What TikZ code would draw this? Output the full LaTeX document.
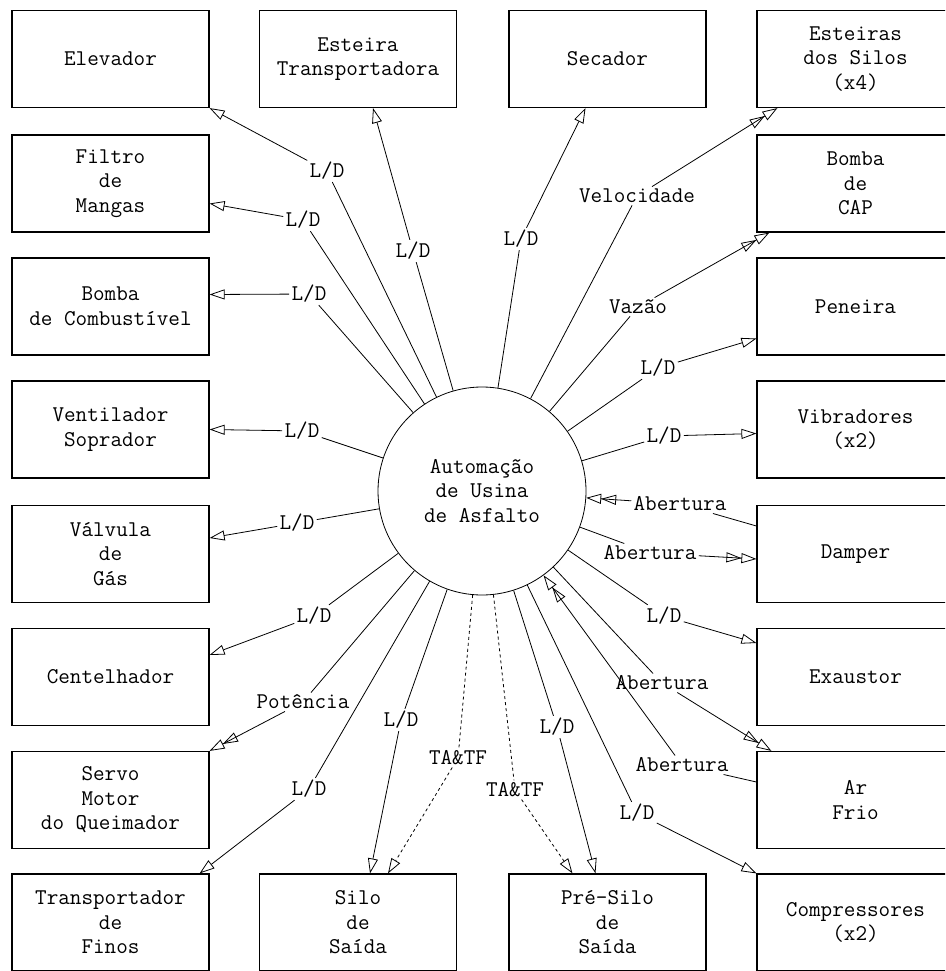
\documentclass[tikz,border=0pt]{standalone}
\usetikzlibrary{arrows.meta}

\begin{document}
\begin{tikzpicture}[x=1pt, y=-1pt, line width=0.8pt,
        >={Triangle[open,length=15pt,width=10pt]},
        bloco/.style={draw, line width=1.2pt, minimum width=197pt, minimum height=97pt,
            inner sep=0pt, align=center, font=\ttfamily\fontsize{22.5}{24.5}\selectfont},
        rotulo/.style={inner sep=2pt, font=\ttfamily\fontsize{22.5}{24}\selectfont},
        tatf/.style={dash pattern=on 3pt off 3pt}]
        \useasboundingbox (0,0) rectangle (945,971);
        \clip (0,0) rectangle (945,971);

        \node[draw, circle, minimum size=208pt, inner sep=0pt, align=center,
              font=\ttfamily\fontsize{22.5}{24.5}\selectfont] (usina) at (482,491)
              {Automação\\de Usina\\de Asfalto};

        % coluna da esquerda
        \node[bloco] (elev)   at (110.5,59)    {Elevador};
        \node[bloco] (filtro) at (110.5,183.5) {Filtro\\de\\Mangas};
        \node[bloco] (bcomb)  at (110.5,306.5) {Bomba\\de Combustível};
        \node[bloco] (vent)   at (110.5,429.5) {Ventilador\\Soprador};
        \node[bloco] (valv)   at (110.5,554)   {Válvula\\de\\Gás};
        \node[bloco] (cent)   at (110.5,677)   {Centelhador};
        \node[bloco] (servo)  at (110.5,800)   {Servo\\Motor\\do Queimador};
        \node[bloco] (tfinos) at (110.5,922.5) {Transportador\\de\\Finos};

        % meio
        \node[bloco] (esttr)   at (358,59)      {Esteira\\Transportadora};
        \node[bloco] (sec)     at (607.5,59)    {Secador};
        \node[bloco] (silo)    at (358,922.5)   {Silo\\de\\Saída};
        \node[bloco] (presilo) at (607.5,922.5) {Pré-Silo\\de\\Saída};

        % coluna da direita
        \node[bloco] (estsil) at (855.5,59)    {Esteiras\\dos Silos\\(x4)};
        \node[bloco] (bcap)   at (855.5,183.5) {Bomba\\de\\CAP};
        \node[bloco] (pen)    at (855.5,306.5) {Peneira};
        \node[bloco] (vib)    at (855.5,429.5) {Vibradores\\(x2)};
        \node[bloco] (damp)   at (855.5,554)   {Damper};
        \node[bloco] (exau)   at (855.5,677)   {Exaustor};
        \node[bloco] (arfr)   at (855.5,800)   {Ar\\Frio};
        \node[bloco] (comp)   at (855.5,922.5) {Compressores\\(x2)};

        % rotulos
        \node[rotulo] (ld1)  at (327,171) {L/D};
        \node[rotulo] (ld2)  at (303,220) {L/D};
        \node[rotulo] (ld3)  at (309,294) {L/D};
        \node[rotulo] (ld4)  at (302,431) {L/D};
        \node[rotulo] (ld5)  at (297,523) {L/D};
        \node[rotulo] (ld6)  at (314,616) {L/D};
        \node[rotulo] (pot)  at (303,702) {Potência};
        \node[rotulo] (ld7)  at (309,789) {L/D};
        \node[rotulo] (ld8)  at (413,251) {L/D};
        \node[rotulo] (ld9)  at (521,239) {L/D};
        \node[rotulo] (vel)  at (637,196) {Velocidade};
        \node[rotulo] (vaz)  at (638,307) {Vazão};
        \node[rotulo] (ld10) at (658,368) {L/D};
        \node[rotulo] (ld11) at (664,436) {L/D};
        \node[rotulo] (ab1)  at (680,504) {Abertura};
        \node[rotulo] (ab2)  at (650,553) {Abertura};
        \node[rotulo] (ld12) at (664,616) {L/D};
        \node[rotulo] (ab3)  at (662,683) {Abertura};
        \node[rotulo] (ab4)  at (682,765) {Abertura};
        \node[rotulo] (ld13) at (637,813) {L/D};
        \node[rotulo] (ld14) at (557,727) {L/D};
        \node[rotulo] (ta1)  at (515,790) {TA\&TF};
        \node[rotulo] (ta2)  at (458,758) {TA\&TF};
        \node[rotulo] (ld15) at (401,720) {L/D};

        % ligacoes
        \draw[->] (usina) -- (ld1) -- (elev.south east);
        \draw[->] (usina) -- (ld2) -- ([yshift=-20pt]filtro.east);
        \draw[->] (usina) -- (ld3) -- ([yshift=12pt]bcomb.east);
        \draw[->] (usina) -- (ld4) -- (vent.east);
        \draw[->] (usina) -- (ld5) -- ([yshift=16pt]valv.east);
        \draw[->] (usina) -- (ld6) -- ([yshift=22pt]cent.east);
        \draw[->>] (usina) -- (pot) -- (servo.north east);
        \draw[->] (usina) -- (ld7) -- ([xshift=-10pt]tfinos.north east);
        \draw[->] (usina) -- (ld8) -- ([xshift=15pt]esttr.south);
        \draw[->] (usina) -- (ld9) -- ([xshift=-22pt]sec.south);
        \draw[->>] (usina) -- (vel) -- ([xshift=21pt]estsil.south west);
        \draw[->>] (usina) -- (vaz) -- ([xshift=13pt]bcap.south west);
        \draw[->] (usina) -- (ld10) -- ([yshift=-32pt]pen.west);
        \draw[->] (usina) -- (ld11) -- ([yshift=-4pt]vib.west);
        \draw[->>] ([yshift=28pt]damp.west) -- (ab1) -- (usina);
        \draw[->>] (usina) -- (ab2) -- ([yshift=-5pt]damp.west);
        \draw[->] (usina) -- (ld12) -- ([yshift=34pt]exau.west);
        \draw[->>] (usina) -- (ab3) -- ([xshift=15pt]arfr.north west);
        \draw[->>] ([yshift=18pt]arfr.west) -- (ab4) -- (usina);
        \draw[->] (usina) -- (ld13) -- (comp.north west);
        \draw[->] (usina) -- (ld14) -- ([xshift=-12pt]presilo.north);
        \draw[->, tatf] (usina) -- (ta1) -- ([xshift=-35pt]presilo.north);
        \draw[->, tatf] (usina) -- (ta2) -- ([xshift=30pt]silo.north);
        \draw[->] (usina) -- (ld15) -- ([xshift=12pt]silo.north);
\end{tikzpicture}
\end{document}
